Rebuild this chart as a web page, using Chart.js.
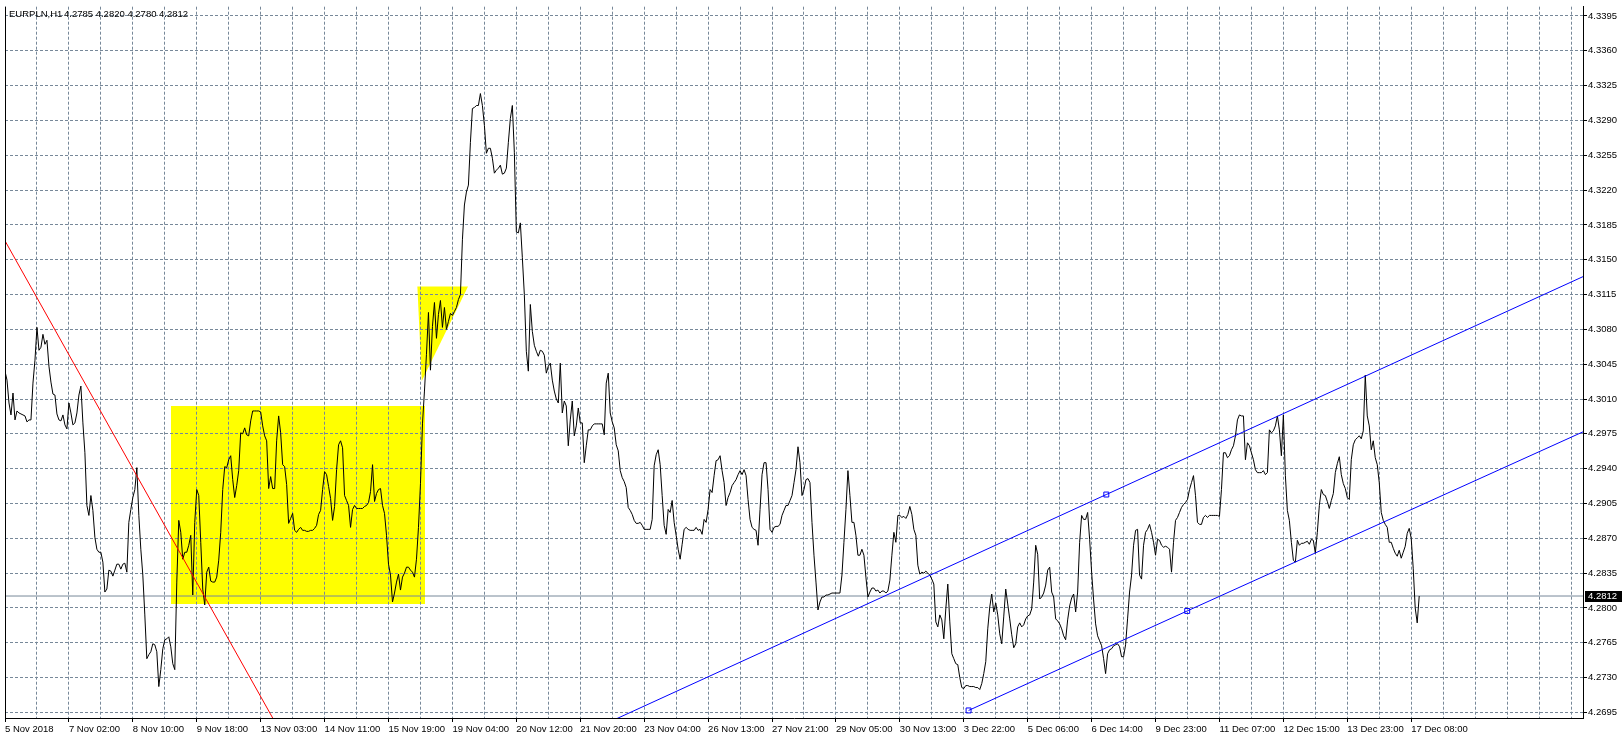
<!DOCTYPE html>
<html>
<head>
<meta charset="utf-8">
<script src="https://cdn.jsdelivr.net/npm/chart.js@4.4.1/dist/chart.umd.min.js"></script>
<style>
html,body{margin:0;padding:0;background:#fff;}
#wrap{position:relative;width:1623px;height:739px;}
</style>
</head>
<body>
<div id="wrap"><canvas id="c" width="1623" height="739"></canvas></div>
<script>
// ---------- data ----------
const chartTitle = 'EURPLN,H1';
const lastBarOHLC = [4.2785, 4.2820, 4.2780, 4.2812];

// time labels, one every 32 hourly bars
const timeLabels = ['5 Nov 2018','7 Nov 02:00','8 Nov 10:00','9 Nov 18:00','13 Nov 03:00','14 Nov 11:00',
  '15 Nov 19:00','19 Nov 04:00','20 Nov 12:00','21 Nov 20:00','23 Nov 04:00','26 Nov 13:00','27 Nov 21:00',
  '29 Nov 05:00','30 Nov 13:00','3 Dec 22:00','5 Dec 06:00','6 Dec 14:00','9 Dec 23:00','11 Dec 07:00',
  '12 Dec 15:00','13 Dec 23:00','17 Dec 08:00'];
const barsPerLabel = 32;
const barsPerGridLine = 16;
const visibleBars = 790;

const priceTicks = [4.2695,4.2730,4.2765,4.2800,4.2835,4.2870,4.2905,4.2940,4.2975,4.3010,4.3045,
  4.3080,4.3115,4.3150,4.3185,4.3220,4.3255,4.3290,4.3325,4.3360,4.3395];
const priceMin = 4.26894, priceMax = 4.34043;

// hourly closes
const closes = [
 4.3038,4.3029,4.3006,4.2994,4.3016,4.2989,4.2998,4.2996,4.2995,4.2994,4.2993,4.2987,4.2989,4.2989,4.3026,4.3049,
 4.3082,4.3059,4.3062,4.3075,4.3065,4.3069,4.3043,4.3027,4.3015,4.3014,4.2995,4.2989,4.2988,4.2994,4.2984,4.2980,
 4.3006,4.2996,4.2984,4.2986,4.2996,4.3014,4.3023,4.2986,4.2956,4.2903,4.2893,4.2913,4.2898,4.2871,4.2859,4.2856,
 4.2856,4.2846,4.2816,4.2819,4.2838,4.2837,4.2832,4.2838,4.2844,4.2844,4.2839,4.2844,4.2845,4.2836,4.2886,4.2899,
 4.2911,4.2919,4.2941,4.2893,4.2859,4.2833,4.2793,4.2749,4.2753,4.2756,4.2764,4.2763,4.2756,4.2721,4.2738,4.2759,
 4.2768,4.2769,4.2771,4.2761,4.2744,4.2738,4.2826,4.2888,4.2876,4.2849,4.2856,4.2856,4.2863,4.2873,4.2813,4.2886,
 4.2919,4.2913,4.2866,4.2819,4.2803,4.2836,4.2841,4.2827,4.2826,4.2826,4.2831,4.2848,4.2876,4.2919,4.2942,4.2941,
 4.2949,4.2953,4.2929,4.2911,4.2923,4.2938,4.2976,
 4.2975,4.2981,4.2974,4.2973,4.2988,4.2998,4.2998,4.2998,4.2998,4.2997,4.2983,4.2973,4.2968,4.2920,4.2932,4.2920,
 4.2920,4.2968,4.2993,4.2976,4.2944,4.2942,4.2924,4.2885,4.2890,4.2895,4.2878,4.2876,4.2879,4.2881,4.2878,4.2878,
 4.2877,4.2877,4.2878,4.2878,4.2880,4.2883,4.2894,4.2898,4.2919,4.2937,4.2934,4.2922,4.2910,4.2888,4.2902,4.2939,
 4.2964,4.2968,4.2961,4.2913,4.2908,4.2903,4.2881,4.2899,4.2903,4.2900,4.2900,4.2900,4.2900,4.2902,4.2903,4.2906,
 4.2917,4.2944,4.2907,4.2915,4.2919,4.2920,4.2903,4.2895,4.2873,4.2844,4.2833,4.2806,4.2815,4.2826,4.2834,4.2818,
 4.2831,4.2835,4.2841,4.2841,4.2838,4.2836,4.2831,4.2849,4.2881,4.2925,4.2985,4.3018,4.3055,4.3097,4.3039,4.3083,
 4.3107,4.3071,4.3095,4.3109,4.3082,4.3102,4.3080,4.3088,4.3096,4.3094,4.3098,4.3102,4.3110,4.3115,
 4.3170,4.3205,4.3218,4.3225,4.3268,4.3302,4.3303,4.3305,4.3305,4.3317,4.3305,4.3285,4.3257,4.3262,4.3262,4.3252,
 4.3237,4.3240,4.3242,4.3245,4.3236,4.3237,4.3242,4.3268,4.3292,4.3305,4.3258,4.3178,4.3177,4.3187,4.3152,4.3115,
 4.3058,4.3038,4.3105,4.3078,4.3064,4.3058,4.3053,4.3059,4.3058,4.3054,4.3036,4.3043,4.3046,4.3029,4.3018,4.3010,
 4.3006,4.3046,4.2996,4.3008,4.3003,4.2963,4.2989,4.3008,4.2973,4.2983,4.3001,4.2986,4.2986,4.2946,4.2963,4.2979,
 4.2979,4.2983,4.2985,4.2985,4.2985,4.2985,4.2985,4.2974,4.3026,4.3036,4.2996,4.2987,4.2981,4.2964,4.2958,4.2938,
 4.2931,4.2927,4.2921,4.2901,4.2898,4.2894,4.2888,4.2885,4.2885,4.2886,4.2883,4.2879,4.2879,4.2879,4.2879,4.2889,
 4.2943,4.2954,4.2959,4.2944,4.2913,4.2883,4.2874,4.2899,4.2896,4.2908,4.2886,4.2873,4.2859,4.2849,4.2864,4.2879,
 4.2881,4.2879,4.2878,4.2878,4.2878,4.2881,4.2878,4.2879,
 4.2874,4.2889,4.2886,4.2899,4.2919,4.2916,4.2933,4.2948,4.2949,4.2953,4.2938,4.2926,4.2903,4.2911,4.2916,4.2923,
 4.2926,4.2929,4.2934,4.2938,4.2934,4.2939,4.2933,4.2909,4.2889,4.2881,4.2879,4.2878,4.2863,4.2899,4.2934,4.2946,
 4.2946,4.2919,4.2879,4.2876,4.2881,4.2882,4.2882,4.2884,4.2893,4.2898,4.2903,4.2903,4.2908,4.2913,4.2926,4.2939,
 4.2962,4.2946,4.2913,4.2919,4.2929,4.2930,4.2926,4.2886,4.2853,4.2826,4.2798,4.2806,4.2811,4.2811,4.2813,4.2813,
 4.2814,4.2815,4.2815,4.2815,4.2815,4.2815,4.2833,4.2866,4.2899,4.2938,4.2913,4.2886,4.2886,4.2873,4.2853,4.2853,
 4.2859,4.2853,4.2831,4.2811,4.2816,4.2820,4.2820,4.2817,4.2818,4.2815,4.2817,4.2817,4.2815,4.2817,4.2828,4.2853,
 4.2876,4.2866,4.2893,4.2893,4.2891,4.2892,4.2890,4.2894,4.2902,4.2894,4.2879,4.2873,4.2843,4.2834,4.2836,4.2835,
 4.2837,4.2835,4.2833,
 4.2829,4.2824,4.2786,4.2781,4.2793,4.2788,4.2769,4.2799,4.2824,4.2786,4.2754,4.2749,4.2744,4.2743,4.2730,4.2720,
 4.2719,4.2722,4.2722,4.2721,4.2721,4.2721,4.2720,4.2720,4.2718,4.2724,4.2734,4.2746,4.2779,4.2801,4.2814,4.2796,
 4.2805,4.2793,4.2774,4.2764,4.2791,4.2819,4.2804,4.2789,4.2773,4.2760,4.2764,4.2781,4.2785,4.2781,4.2783,4.2789,
 4.2792,4.2793,4.2799,4.2826,4.2863,4.2854,4.2809,4.2811,4.2815,4.2823,4.2838,4.2841,4.2816,4.2811,4.2789,4.2787,
 4.2784,4.2779,4.2772,4.2768,4.2788,4.2802,4.2810,4.2814,4.2796,4.2816,4.2866,4.2893,4.2889,4.2889,4.2896,4.2869,
 4.2836,4.2808,4.2784,4.2772,4.2767,4.2762,4.2749,4.2734,4.2754,4.2758,4.2759,4.2762,4.2763,4.2764,4.2761,4.2751,
 4.2751,4.2763,4.2789,4.2816,4.2833,4.2863,4.2878,4.2879,4.2833,4.2829,4.2863,4.2876,4.2879,4.2884,4.2876,4.2866,
 4.2853,4.2869,4.2868,
 4.2863,4.2861,4.2862,4.2861,4.2859,4.2836,4.2866,4.2888,4.2891,4.2896,4.2901,4.2904,4.2906,4.2909,4.2919,4.2926,
 4.2933,4.2913,4.2886,4.2884,4.2884,4.2891,4.2893,4.2891,4.2893,4.2893,4.2893,4.2893,4.2893,4.2892,4.2919,4.2956,
 4.2956,4.2951,4.2953,4.2959,4.2963,4.2973,4.2989,4.2994,4.2993,4.2993,4.2949,4.2966,4.2963,4.2956,4.2949,4.2939,
 4.2936,4.2936,4.2936,4.2938,4.2934,4.2936,4.2979,4.2976,4.2978,4.2983,4.2993,4.2979,4.2953,4.2994,4.2933,4.2898,
 4.2888,4.2866,4.2848,4.2846,4.2868,4.2863,4.2865,4.2865,4.2866,4.2867,4.2864,4.2869,4.2868,4.2855,4.2876,4.2903,
 4.2919,4.2914,4.2913,4.2907,4.2900,4.2908,4.2915,4.2936,4.2945,4.2952,4.2934,4.2925,4.2920,4.2911,4.2909,4.2949,
 4.2964,4.2969,4.2971,4.2973,4.2970,4.2978,4.3034,4.2993,4.2983,4.2959,4.2968,4.2951,4.2944,4.2926,4.2896,4.2888,
 4.2884,4.2881,4.2866,
 4.2866,4.2860,4.2855,4.2852,4.2858,4.2850,4.2856,4.2862,4.2875,4.2880,4.2870,4.2840,4.2800,4.2785,4.2812
];

// drawn objects (bar index, price)
const redTrendline   = [{x:0, y:4.3169}, {x:140, y:4.2668}];
const blueUpperLine  = [{x:300, y:4.2683}, {x:551.35, y:4.2914}, {x:790, y:4.3133}];
const blueLowerLine  = [{x:482.4, y:4.2697}, {x:591.85, y:4.2797}, {x:790, y:4.2977}];
const yellowRectangle = [{x:83.15, y:4.3003}, {x:210.15, y:4.2804}];
const yellowTriangle  = [{x:206.45, y:4.3123}, {x:231.8, y:4.3123}, {x:208.65, y:4.3028}];

// ---------- styling ----------
const FONT = '"Liberation Sans", Arial, sans-serif';
const GRID = '#778899';
const lastClose = lastBarOHLC[3];

const backgroundPlugin = {
  id: 'bgAndShapes',
  beforeDraw(chart) {
    const {ctx, chartArea: a, scales: {x, y}} = chart;
    ctx.save();
    ctx.fillStyle = '#fff';
    ctx.fillRect(0, 0, chart.width, chart.height);
    ctx.beginPath();
    ctx.rect(a.left, a.top, a.right - a.left, a.bottom - a.top);
    ctx.clip();
    ctx.fillStyle = '#ffff00';
    const x0 = x.getPixelForValue(yellowRectangle[0].x), x1 = x.getPixelForValue(yellowRectangle[1].x);
    const y0 = y.getPixelForValue(yellowRectangle[0].y), y1 = y.getPixelForValue(yellowRectangle[1].y);
    ctx.fillRect(Math.round(x0), Math.round(y0), Math.round(x1 - x0), Math.round(y1 - y0));
    ctx.beginPath();
    yellowTriangle.forEach((p, i) => {
      const px = x.getPixelForValue(p.x), py = y.getPixelForValue(p.y);
      if (i === 0) ctx.moveTo(px, py); else ctx.lineTo(px, py);
    });
    ctx.closePath();
    ctx.fill();
    ctx.restore();
  }
};

const overlayPlugin = {
  id: 'overlay',
  afterDraw(chart) {
    const {ctx, chartArea: a, scales: {y}} = chart;
    ctx.save();
    // left frame line
    ctx.strokeStyle = '#000';
    ctx.lineWidth = 1;
    ctx.beginPath();
    ctx.moveTo(a.left + 0.5, a.top);
    ctx.lineTo(a.left + 0.5, a.bottom);
    ctx.stroke();
    // header
    ctx.fillStyle = '#000';
    ctx.font = '9.5px ' + FONT;
    ctx.textBaseline = 'middle';
    ctx.textAlign = 'left';
    ctx.fillText(chartTitle, a.left + 4, a.top + 8);
    ctx.fillText(lastBarOHLC.map(v => v.toFixed(4)).join(' '), a.left + 59, a.top + 8);
    // current price label
    const py = Math.round(y.getPixelForValue(lastClose));
    ctx.fillStyle = '#000';
    ctx.fillRect(a.right + 2, py - 5, 37, 11);
    ctx.fillStyle = '#fff';
    ctx.fillText(lastClose.toFixed(4), a.right + 5, py + 0.5);
    ctx.restore();
  }
};

const labelForBar = (v) => {
  const k = v / barsPerLabel;
  return (Number.isInteger(k) && k < timeLabels.length) ? timeLabels[k] : '';
};

const ctx = document.getElementById('c').getContext('2d');
Chart.defaults.font.family = FONT;
new Chart(ctx, {
  type: 'line',
  data: {
    datasets: [
      { label: 'red', data: redTrendline, borderColor: '#ff0000', borderWidth: 1, pointRadius: 0, order: 0 },
      { label: 'blueUpper', data: blueUpperLine, borderColor: '#0000ff', borderWidth: 1, order: 0,
        pointRadius: [0, 3.5, 0], pointStyle: 'rect', pointBorderColor: '#0000ff', pointBorderWidth: 1,
        pointBackgroundColor: 'rgba(255,255,255,0)' },
      { label: 'blueLower', data: blueLowerLine, borderColor: '#0000ff', borderWidth: 1, order: 0,
        pointRadius: [3.5, 3.5, 0], pointStyle: 'rect', pointBorderColor: '#0000ff', pointBorderWidth: 1,
        pointBackgroundColor: 'rgba(255,255,255,0)' },
      { label: 'close', data: closes.map((v, i) => ({x: i, y: v})), borderColor: '#000', borderWidth: 1,
        pointRadius: 0, tension: 0, order: 1 },
      { label: 'bid', data: [{x: 0, y: lastClose}, {x: visibleBars, y: lastClose}], borderColor: GRID,
        borderWidth: 1, pointRadius: 0, order: 2 }
    ]
  },
  options: {
    responsive: false,
    animation: false,
    devicePixelRatio: 1,
    events: [],
    layout: { padding: { left: 3, top: 0, right: 0, bottom: 0 } },
    plugins: { legend: { display: false }, tooltip: { enabled: false }, title: { display: false } },
    scales: {
      x: {
        type: 'linear', position: 'bottom', min: 0, max: visibleBars,
        afterBuildTicks: (s) => {
          const t = [];
          for (let b = 0; b < visibleBars; b += barsPerGridLine) t.push({ value: b });
          s.ticks = t;
        },
        afterFit: (s) => { s.height = 21; },
        grid: {
          color: GRID, lineWidth: 1, drawTicks: true, tickLength: 4, tickWidth: 1,
          tickColor: (c) => (c.tick && labelForBar(c.tick.value) !== '') ? '#000' : 'rgba(0,0,0,0)'
        },
        border: { display: true, color: '#000', width: 1, dash: [3, 2] },
        ticks: {
          autoSkip: false, maxRotation: 0, minRotation: 0, align: 'start', padding: 2,
          color: '#000', font: { family: FONT, size: 9.5 },
          callback: (v) => labelForBar(v)
        }
      },
      y: {
        type: 'linear', position: 'right', min: priceMin, max: priceMax,
        afterBuildTicks: (s) => { s.ticks = priceTicks.map(v => ({ value: v })); },
        afterFit: (s) => { s.width = 40; },
        grid: { color: GRID, lineWidth: 1, drawTicks: true, tickLength: 4, tickColor: '#000', tickWidth: 1 },
        border: { display: true, color: '#000', width: 1, dash: [3, 2] },
        ticks: {
          autoSkip: false, padding: 1, color: '#000', font: { family: FONT, size: 9.5 },
          callback: (v) => Number(v).toFixed(4)
        }
      }
    }
  },
  plugins: [backgroundPlugin, overlayPlugin]
});
</script>
</body>
</html>
